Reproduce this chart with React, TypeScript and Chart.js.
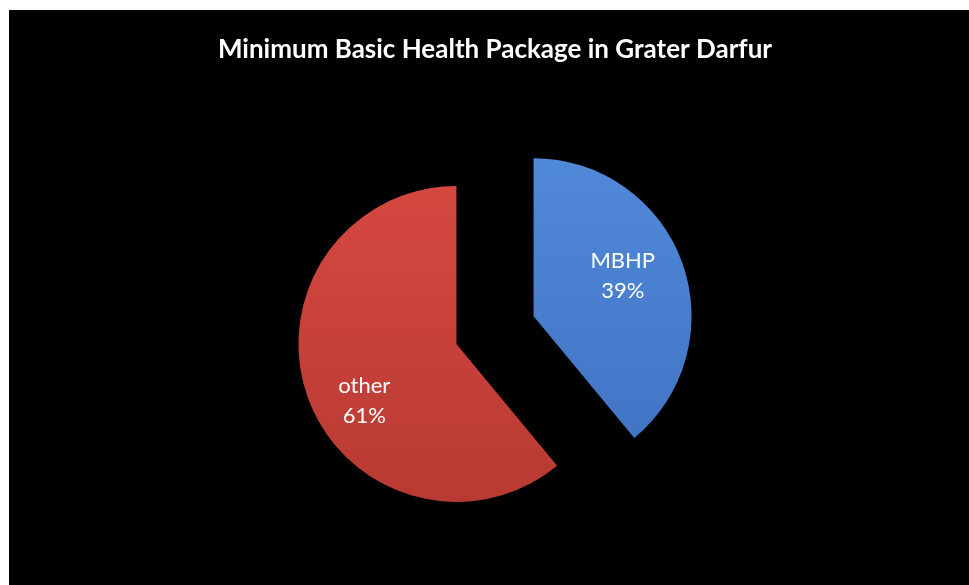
import React, { useEffect, useRef } from "react";
import { Chart, registerables } from "chart.js";

Chart.register(...registerables);

const titleText = "Minimum Basic Health Package in Grater Darfur";
const categories = ["MBHP", "other"];
const shares = [39, 61];
const topColors = ["#5089d8", "#d4483f"];
const bottomColors = ["#4072c2", "#b83a33"];

const RADIUS = 158;
const EXPLODE = 41;
const LABEL_FRACTION = 0.64;
const LABEL_NUDGE = [
  [-6, -6],
  [3, 23],
];

function midAngle(values: number[], i: number) {
  const total = values.reduce((a, b) => a + b, 0);
  let start = 0;
  for (let k = 0; k < i; k++) start += values[k];
  const a0 = -Math.PI / 2 + (start / total) * Math.PI * 2;
  const a1 = a0 + (values[i] / total) * Math.PI * 2;
  return (a0 + a1) / 2;
}

const explodePlugin = {
  id: "explodeSlices",
  afterDatasetsUpdate(chart: any) {
    const meta = chart.getDatasetMeta(0);
    meta.data.forEach((el: any) => {
      const mid = (el.startAngle + el.endAngle) / 2;
      el.x = el.x + Math.cos(mid) * EXPLODE;
      el.y = el.y + Math.sin(mid) * EXPLODE;
    });
  },
};

const labelPlugin = {
  id: "sliceLabels",
  afterDatasetsDraw(chart: any) {
    const ctx = chart.ctx;
    const meta = chart.getDatasetMeta(0);
    const total = shares.reduce((a, b) => a + b, 0);
    ctx.save();
    ctx.fillStyle = "#ffffff";
    ctx.font = "22px Lato";
    ctx.textAlign = "center";
    ctx.textBaseline = "middle";
    meta.data.forEach((el: any, i: number) => {
      const mid = (el.startAngle + el.endAngle) / 2;
      const r = el.outerRadius * LABEL_FRACTION;
      const x = el.x + Math.cos(mid) * r + LABEL_NUDGE[i][0];
      const y = el.y + Math.sin(mid) * r + LABEL_NUDGE[i][1];
      const pct = Math.round((shares[i] / total) * 100) + "%";
      ctx.fillText(categories[i], x, y - 15);
      ctx.fillText(pct, x, y + 15);
    });
    ctx.restore();
  },
};

export default function App() {
  const ref = useRef<HTMLCanvasElement | null>(null);
  useEffect(() => {
    if (!ref.current) return;
    const chart = new Chart(ref.current, {
      type: "pie",
      data: {
        labels: categories,
        datasets: [
          {
            data: shares,
            borderWidth: 0,
            backgroundColor: (c: any) => {
              const area = c.chart.chartArea;
              if (!area) return topColors[c.dataIndex];
              const cy = (area.top + area.bottom) / 2;
              const mid = midAngle(shares, c.dataIndex);
              const y = cy + Math.sin(mid) * EXPLODE;
              const g = c.chart.ctx.createLinearGradient(0, y - RADIUS, 0, y + RADIUS);
              g.addColorStop(0, topColors[c.dataIndex]);
              g.addColorStop(1, bottomColors[c.dataIndex]);
              return g;
            },
          },
        ],
      },
      options: {
        responsive: false,
        animation: false,
        radius: RADIUS,
        layout: { padding: { left: 12, right: 0, top: 0, bottom: 7 } },
        plugins: {
          legend: { display: false },
          tooltip: { enabled: false },
          title: {
            display: true,
            text: titleText,
            color: "#ffffff",
            font: { family: "Lato", size: 26, weight: "bold", lineHeight: 1.2 },
            padding: { top: 24, bottom: 17 },
          },
        },
      },
      plugins: [explodePlugin, labelPlugin],
    });
    return () => chart.destroy();
  }, []);
  return (
    <div
      style={{
        position: "fixed",
        left: 9,
        top: 10,
        width: 960,
        height: 575,
        background: "#000000",
      }}
    >
      <canvas ref={ref} width={960} height={575} style={{ display: "block" }} />
    </div>
  );
}
